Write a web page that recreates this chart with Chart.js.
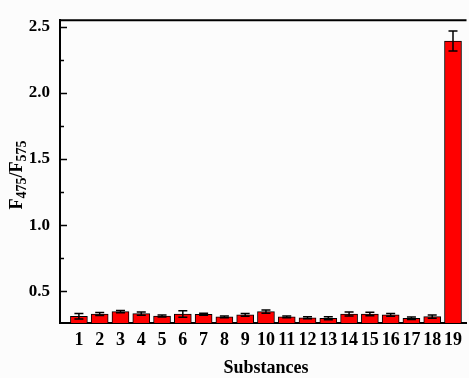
<!DOCTYPE html>
<html>
<head>
<meta charset="utf-8">
<script src="https://cdn.jsdelivr.net/npm/chart.js@4"></script>
<style>
  html, body { margin: 0; padding: 0; background: #fcfcfc; }
  #wrap { width: 469px; height: 378px; }
</style>
</head>
<body>
<div id="wrap"><canvas id="c" width="469" height="378"></canvas></div>
<script>
const categories = [1,2,3,4,5,6,7,8,9,10,11,12,13,14,15,16,17,18,19];
const ratioValues = [0.311,0.328,0.346,0.331,0.313,0.328,0.326,0.306,0.321,0.346,0.306,0.300,0.296,0.328,0.328,0.321,0.296,0.308,2.393];
const ratioErrors = [0.020,0.012,0.008,0.012,0.008,0.025,0.008,0.006,0.010,0.012,0.006,0.008,0.012,0.016,0.014,0.010,0.010,0.012,0.075];
const yTickValues = [0.5,1.0,1.5,2.0,2.5];
const yMinorValues = [0.75,1.25,1.75,2.25];

const FONT = "'Liberation Serif', 'Times New Roman', serif";

const decor = {
  id: 'decor',
  afterDatasetsDraw(chart) {
    const ctx = chart.ctx;
    const ys = chart.scales.y;
    const meta = chart.getDatasetMeta(0);
    ctx.save();
    ctx.strokeStyle = '#000';
    ctx.lineWidth = 1.5;
    meta.data.forEach((bar, i) => {
      const v = ratioValues[i], e = ratioErrors[i];
      const yt = ys.getPixelForValue(v + e);
      const yb = ys.getPixelForValue(v - e);
      const x = bar.x;
      const cw = 4.5;
      ctx.beginPath();
      ctx.moveTo(x, yt); ctx.lineTo(x, yb);
      ctx.moveTo(x - cw, yt); ctx.lineTo(x + cw, yt);
      ctx.moveTo(x - cw, yb); ctx.lineTo(x + cw, yb);
      ctx.stroke();
    });
    ctx.restore();
  },
  afterDraw(chart) {
    const ctx = chart.ctx;
    const a = chart.chartArea;
    const ys = chart.scales.y;
    ctx.save();
    ctx.strokeStyle = '#000';
    ctx.lineWidth = 2;
    ctx.beginPath();
    ctx.moveTo(a.left - 1, a.top);
    ctx.lineTo(a.right, a.top);
    ctx.stroke();
    ctx.lineWidth = 1.5;
    ctx.beginPath();
    yTickValues.forEach(v => {
      const p = Math.round(ys.getPixelForValue(v)) + 0.5;
      ctx.moveTo(a.left, p); ctx.lineTo(a.left + 7, p);
    });
    yMinorValues.forEach(v => {
      const p = Math.round(ys.getPixelForValue(v)) + 0.5;
      ctx.moveTo(a.left, p); ctx.lineTo(a.left + 4, p);
    });
    ctx.stroke();

    // x title
    ctx.fillStyle = '#000';
    ctx.font = 'bold 18px ' + FONT;
    ctx.textAlign = 'center';
    ctx.textBaseline = 'middle';
    ctx.fillText('Substances', 266, 368);

    // y title with subscripts
    ctx.translate(16, 175);
    ctx.rotate(-Math.PI / 2);
    const parts = [['F', false], ['475', true], ['/F', false], ['575', true]];
    const big = 'bold 18px ' + FONT, small = 'bold 14px ' + FONT;
    let total = 0;
    parts.forEach(([t, s]) => { ctx.font = s ? small : big; total += ctx.measureText(t).width; });
    let x = -total / 2;
    ctx.textAlign = 'left';
    ctx.textBaseline = 'alphabetic';
    parts.forEach(([t, s]) => {
      ctx.font = s ? small : big;
      ctx.fillText(t, x, s ? 10 : 6);
      x += ctx.measureText(t).width;
    });
    ctx.restore();
  }
};

new Chart(document.getElementById('c'), {
  type: 'bar',
  data: {
    datasets: [{
      data: categories.map((c, i) => ({ x: c, y: ratioValues[i] })),
      backgroundColor: '#ff0000',
      borderColor: '#000',
      borderWidth: 1,
      borderSkipped: false,
      barThickness: 17
    }]
  },
  options: {
    responsive: false,
    animation: false,
    layout: { padding: { top: 13, right: 0, left: 0, bottom: 0 } },
    plugins: { legend: { display: false }, tooltip: { enabled: false } },
    scales: {
      x: {
        type: 'linear',
        min: 0.09,
        max: 19.65,
        offset: false,
        grid: { display: false, drawTicks: false },
        border: { color: '#000', width: 2 },
        afterBuildTicks: s => { s.ticks = categories.map(v => ({ value: v })); },
        afterFit: s => { s.height = 55; },
        ticks: {
          color: '#000',
          font: { family: FONT, size: 18, weight: 'bold' },
          padding: 7,
          maxRotation: 0,
          autoSkip: false,
          callback: v => String(v)
        }
      },
      y: {
        min: 0.26,
        max: 2.55,
        grid: { display: false, drawTicks: false },
        border: { color: '#000', width: 2 },
        afterBuildTicks: s => { s.ticks = yTickValues.map(v => ({ value: v })); },
        afterFit: s => { s.width = 60; },
        ticks: {
          color: '#000',
          font: { family: FONT, size: 17, weight: 'bold' },
          padding: 10,
          callback: v => Number(v).toFixed(1)
        }
      }
    }
  },
  plugins: [decor]
});
</script>
</body>
</html>
